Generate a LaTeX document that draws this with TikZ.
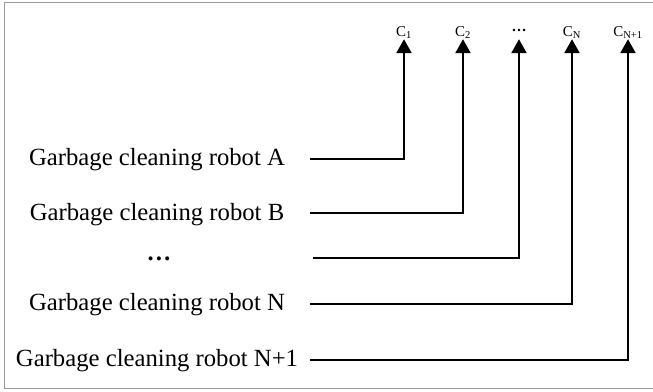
\documentclass[tikz,border=0pt]{standalone}
\usepackage{fontspec}
\setmainfont{Liberation Serif}
\usetikzlibrary{arrows.meta}
\tikzset{
  robot/.style={anchor=base, inner sep=0pt, font=\fontsize{24.7}{28}\selectfont},
  clab/.style={anchor=base, inner sep=1pt, text depth=2pt, font=\fontsize{15}{17}\selectfont},
  link/.style={line width=2.4pt, -{Triangle[width=15pt,length=14pt]}},
  frame/.style={draw=gray!80, line width=1pt}
}
\begin{document}
\begin{tikzpicture}[x=1pt,y=-1pt]
\useasboundingbox (0,0) rectangle (653,391);
\draw[frame] (653,2.5) -- (4,2.5) -- (4,388.5) -- (653,388.5);
% top labels
\node[clab] (c1) at (404,36) {C\textsubscript{1}};
\node[clab] (c2) at (463,36) {C\textsubscript{2}};
\node[clab] (cd) at (519,36) {\raisebox{5pt}{\textbf{…}}};
\node[clab] (cn) at (572,36) {C\textsubscript{N}};
\node[clab] (cn1) at (628,36) {C\textsubscript{N+1}};
% robots
\node[robot] (rA) at (157,165) {Garbage cleaning robot A};
\node[robot] (rB) at (157,220) {Garbage cleaning robot B};
\node[robot] (rD) at (159,260) {\textbf{…}};
\node[robot] (rN) at (157,310) {Garbage cleaning robot N};
\node[robot] (rN1) at (157,366) {Garbage cleaning robot N+1};
% line starts
\coordinate (sA) at (310,159);
\coordinate (sB) at (310,213);
\coordinate (sD) at (313,258);
\coordinate (sN) at (310,304);
\coordinate (sN1) at (310,360);
% connectors
\draw[link] (sA) -| (c1.south);
\draw[link] (sB) -| (c2.south);
\draw[link] (sD) -| (cd.south);
\draw[link] (sN) -| (cn.south);
\draw[link] (sN1) -| (cn1.south);
\end{tikzpicture}
\end{document}
